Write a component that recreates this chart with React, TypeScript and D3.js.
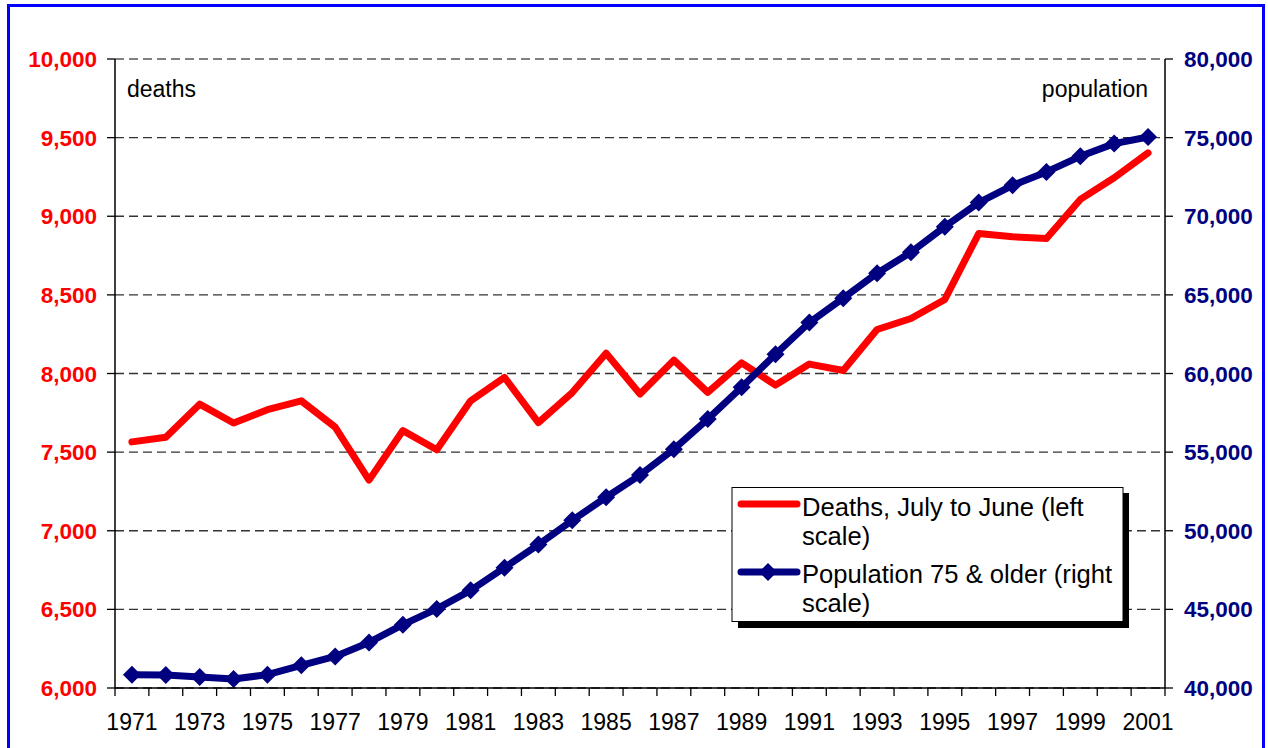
import React from 'react';
import * as d3 from 'd3';

// deaths (left scale) vs population aged 75+ (right scale), 1971-2001
const years = [
  '1971', '1972', '1973', '1974', '1975', '1976', '1977', '1978', '1979', '1980',
  '1981', '1982', '1983', '1984', '1985', '1986', '1987', '1988', '1989', '1990',
  '1991', '1992', '1993', '1994', '1995', '1996', '1997', '1998', '1999', '2000', '2001',
];

const deaths = [
  7565, 7595, 7805, 7685, 7770, 7826, 7659, 7322, 7637, 7515,
  7826, 7975, 7688, 7879, 8129, 7870, 8085, 7880, 8068, 7926,
  8060, 8019, 8280, 8350, 8471, 8890, 8869, 8859, 9107, 9245, 9403,
];

const population = [
  40846, 40820, 40700, 40570, 40850, 41440, 42010, 42900, 44030, 45030,
  46210, 47650, 49120, 50660, 52130, 53540, 55190, 57100, 59130, 61220,
  63240, 64790, 66380, 67710, 69340, 70870, 71970, 72820, 73810, 74620, 75040,
];

const deathTicks = [6000, 6500, 7000, 7500, 8000, 8500, 9000, 9500, 10000];
const popTicks = [40000, 45000, 50000, 55000, 60000, 65000, 70000, 75000, 80000];
const yearLabels = ['1971', '1973', '1975', '1977', '1979', '1981', '1983', '1985',
  '1987', '1989', '1991', '1993', '1995', '1997', '1999', '2001'];

const width = 1268;
const height = 748;
const plot = { left: 115, right: 1165, top: 59, bottom: 688 };
const font = 'Arial, "Liberation Sans", sans-serif';
const RED = '#ff0000';
const NAVY = '#000080';

const diamond = 'M0,-9L9,0L0,9L-9,0Z';

export default function App() {
  const x = d3.scaleBand<string>().domain(years).range([plot.left, plot.right]).padding(0);
  const cx = (y: string) => (x(y) as number) + x.bandwidth() / 2;
  const yLeft = d3.scaleLinear().domain([6000, 10000]).range([plot.bottom, plot.top]);
  const yRight = d3.scaleLinear().domain([40000, 80000]).range([plot.bottom, plot.top]);
  const fmt = d3.format(',');

  const deathLine = d3.line<number>()
    .x((_, i) => cx(years[i]))
    .y(d => yLeft(d));
  const popLine = d3.line<number>()
    .x((_, i) => cx(years[i]))
    .y(d => yRight(d));

  const boundaries = years.map(y => x(y) as number).concat([plot.right]);

  return (
    <svg width={width} height={height} style={{ position: 'absolute', left: 0, top: 0, background: '#fff' }}
      fontFamily={font}>
      {/* outer frame */}
      <rect x={8.5} y={5.5} width={1255} height={800} fill="none" stroke="#0000ff" strokeWidth={3} />

      {/* gridlines */}
      {deathTicks.map(t => (
        <line key={'g' + t} x1={plot.left} x2={plot.right} y1={yLeft(t)} y2={yLeft(t)}
          stroke={t === 10000 ? '#808080' : '#333'} strokeWidth={t === 10000 ? 2 : 1.3}
          strokeDasharray="9,5" />
      ))}

      {/* axes */}
      <line x1={plot.left} x2={plot.left} y1={plot.top} y2={plot.bottom} stroke="#000" strokeWidth={1.5} />
      <line x1={plot.right} x2={plot.right} y1={plot.top} y2={plot.bottom} stroke="#000" strokeWidth={1.5} />
      <line x1={plot.left} x2={plot.right} y1={plot.bottom} y2={plot.bottom} stroke="#000" strokeWidth={1.5} />

      {deathTicks.map(t => (
        <g key={'l' + t}>
          <line x1={plot.left - 8} x2={plot.left} y1={yLeft(t)} y2={yLeft(t)} stroke="#000" strokeWidth={1.3} />
          <text x={97} y={yLeft(t)} dy="0.36em" textAnchor="end" fill={RED} fontWeight="bold" fontSize={22.5}>
            {fmt(t)}
          </text>
        </g>
      ))}
      {popTicks.map(t => (
        <g key={'r' + t}>
          <line x1={plot.right} x2={plot.right + 8} y1={yRight(t)} y2={yRight(t)} stroke="#000" strokeWidth={1.3} />
          <text x={1184} y={yRight(t)} dy="0.36em" textAnchor="start" fill={NAVY} fontWeight="bold" fontSize={22.5}>
            {fmt(t)}
          </text>
        </g>
      ))}
      {boundaries.map((b, i) => (
        <line key={'xt' + i} x1={b} x2={b} y1={plot.bottom} y2={plot.bottom + 8} stroke="#000" strokeWidth={1.3} />
      ))}
      {yearLabels.map(y => (
        <text key={'xl' + y} x={cx(y)} y={730} textAnchor="middle" fontSize={23} fill="#000">{y}</text>
      ))}

      <text x={127} y={97} fontSize={23} fill="#000">deaths</text>
      <text x={1148} y={97} fontSize={23} fill="#000" textAnchor="end">population</text>

      {/* series */}
      <path d={deathLine(deaths) || ''} fill="none" stroke={RED} strokeWidth={7} strokeLinejoin="round" strokeLinecap="round" />
      <path d={popLine(population) || ''} fill="none" stroke={NAVY} strokeWidth={7} strokeLinejoin="round" />
      {population.map((p, i) => (
        <path key={'m' + i} d={diamond} transform={`translate(${cx(years[i])},${yRight(p)})`} fill={NAVY} />
      ))}

      {/* legend */}
      <rect x={738} y={493} width={391} height={135} fill="#000" />
      <rect x={732} y={487.5} width={391} height={134} fill="#fff" stroke="#000" strokeWidth={1} />
      <line x1={741} x2={797} y1={504} y2={504} stroke={RED} strokeWidth={7} strokeLinecap="round" />
      <text x={802} y={516} fontSize={25.6} fill="#000">Deaths, July to June (left</text>
      <text x={802} y={545} fontSize={25.6} fill="#000">scale)</text>
      <line x1={741} x2={797} y1={572} y2={572} stroke={NAVY} strokeWidth={7} strokeLinecap="round" />
      <path d={diamond} transform="translate(768,572)" fill={NAVY} />
      <text x={802} y={583} fontSize={25.6} fill="#000">Population 75 &amp; older (right</text>
      <text x={802} y={612} fontSize={25.6} fill="#000">scale)</text>
    </svg>
  );
}
